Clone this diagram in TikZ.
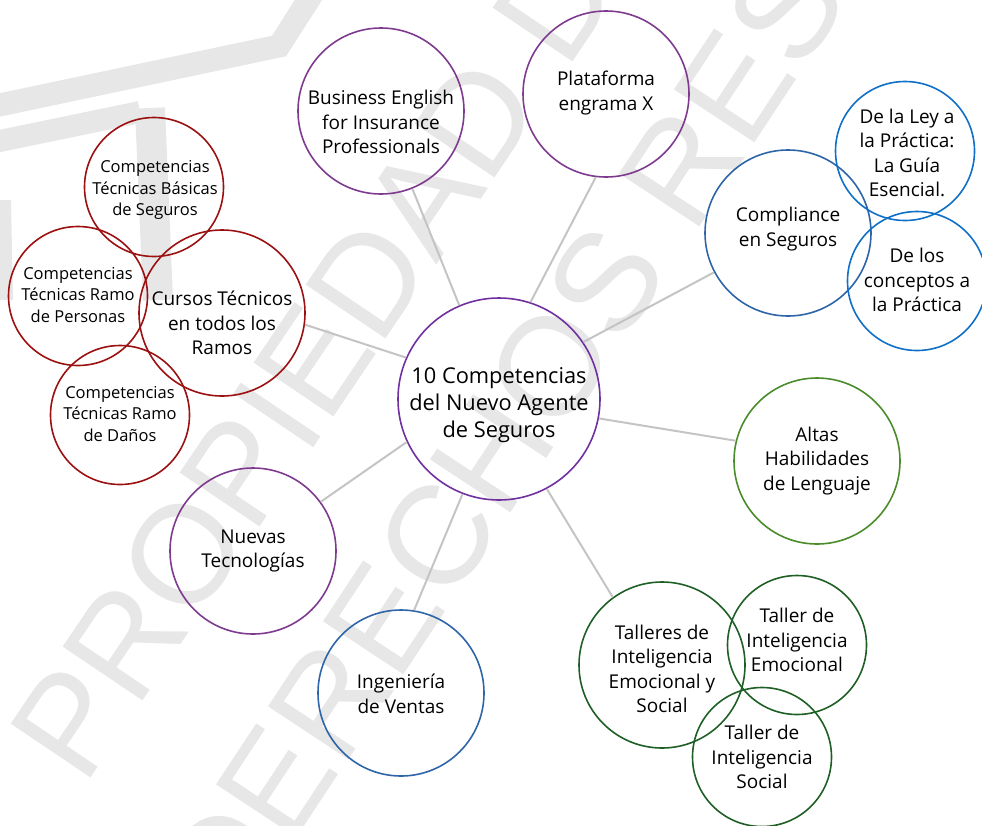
\documentclass[tikz,border=0pt]{standalone}
\usepackage{fontspec}
\setmainfont{Open Sans}
\newfontfamily\stampfont{Liberation Sans}
\definecolor{corepurple}{HTML}{7030A0}
\definecolor{plum}{HTML}{7E3A8E}
\definecolor{navy}{HTML}{2E65A8}
\definecolor{sky}{HTML}{1070C8}
\definecolor{leaf}{HTML}{4A8C2A}
\definecolor{forest}{HTML}{1F5F25}
\definecolor{maroon}{HTML}{9B1010}
\definecolor{linkgray}{HTML}{C4C4C4}
\definecolor{stampgray}{HTML}{E7E7E7}
\tikzset{
  ring/.style={circle, draw=#1, line width=1.6pt, inner sep=0pt},
  bigring/.style={ring=#1, minimum size=166pt},
  smallring/.style={ring=#1, minimum size=139pt},
  corering/.style={ring=#1, minimum size=202pt},
  label17/.style={align=center, font=\fontsize{19}{24.5}\selectfont},
  label15/.style={align=center, font=\fontsize{16.5}{21.5}\selectfont},
  label20/.style={align=center, font=\fontsize{21.8}{27}\selectfont},
  link/.style={draw=linkgray, line width=2pt},
  stampword/.style={text=stampgray, font=\stampfont\fontsize{140}{140}\selectfont},
  stampbar/.style={draw=stampgray, line width=#1, line join=miter}
}
\begin{document}
\begin{tikzpicture}[x=1pt, y=-1pt]
\useasboundingbox (0,0) rectangle (982,825);

% faint watermark behind the diagram: emblem bars and lettering
\draw[stampbar=23pt] (-10,107) -- (279,46) -- (318,-15);
\draw[stampbar=22pt] (-10,143) -- (140,112);
\draw[stampbar=30pt] (150,108) -- (158,300);
\draw[stampbar=14pt] (4,200) -- (6,300);
\node[stampword, rotate=56] (wm1) at (340,322) {PROPIEDAD DE};
\node[stampword, rotate=56.6] (wm2) at (688,157) {DERECHOS RESERVADOS};

% circles
\node[corering=corepurple] (core) at (499,399) {};
\node[bigring=plum] (be) at (381,111) {};
\node[bigring=plum] (plat) at (606,94) {};
\node[bigring=navy] (comp) at (788,233) {};
\node[smallring=sky] (ley) at (905,151) {};
\node[smallring=sky] (conc) at (917,281) {};
\node[bigring=leaf] (altas) at (817,461) {};
\node[bigring=forest] (tall) at (662,665) {};
\node[smallring=forest] (temo) at (797,645) {};
\node[smallring=forest] (tsoc) at (762,757) {};
\node[bigring=navy] (ing) at (401,693) {};
\node[bigring=plum] (nuev) at (253,551) {};
\node[bigring=maroon] (curs) at (222,313) {};
\node[smallring=maroon] (basic) at (154,187) {};
\node[smallring=maroon] (pers) at (78,296) {};
\node[smallring=maroon] (danos) at (120,415) {};

% connectors from the central circle
\draw[link] (core.113.8) -- (be.-68.2);
\draw[link] (core.72.5) -- (plat.-97);
\draw[link] (core.34.5) -- (comp.-152.8);
\draw[link] (core.-11.4) -- (altas.166);
\draw[link] (core.-62.9) -- (tall.126.3);
\draw[link] (core.-111.5) -- (ing.81.6);
\draw[link] (core.-155.2) -- (nuev.36.9);
\draw[link] (core.156.7) -- (curs.-8.7);

% texts
\node[label20] (tcore) at (499,405) {10 Competencias\\del Nuevo Agente\\de Seguros};
\node[label17] (tbe) at (381,122) {Business English\\for Insurance\\Professionals};
\node[label17] (tplat) at (606,93) {Plataforma\\engrama X};
\node[label17] (tcomp) at (788,229) {Compliance\\en Seguros};
\node[label17] (tley) at (907,153) {De la Ley a\\la Práctica:\\La Guía\\Esencial.};
\node[label17] (tconc) at (917,280) {De los\\conceptos a\\la Práctica};
\node[label17] (taltas) at (817,461) {Altas\\Habilidades\\de Lenguaje};
\node[label17] (ttall) at (662,669) {Talleres de\\Inteligencia\\Emocional y\\Social};
\node[label17] (ttemo) at (797,640) {Taller de\\Inteligencia\\Emocional};
\node[label17] (ttsoc) at (762,757) {Taller de\\Inteligencia\\Social};
\node[label17] (ting) at (401,694) {Ingeniería\\de Ventas};
\node[label17] (tnuev) at (253,551) {Nuevas\\Tecnologías};
\node[label17] (tcurs) at (222,323) {Cursos Técnicos\\en todos los\\Ramos};
\node[label15] (tbasic) at (155,190) {Competencias\\Técnicas Básicas\\de Seguros};
\node[label15] (tpers) at (78,295) {Competencias\\Técnicas Ramo\\de Personas};
\node[label15] (tdanos) at (120,414) {Competencias\\Técnicas Ramo\\de Daños};
\end{tikzpicture}
\end{document}
